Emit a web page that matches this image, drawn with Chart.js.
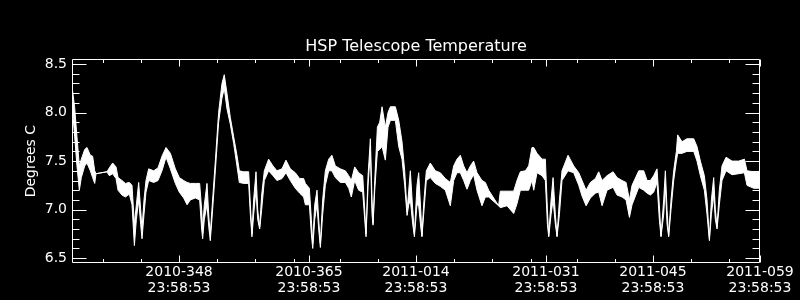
<!DOCTYPE html>
<html>
<head>
<meta charset="utf-8">
<script src="https://cdn.jsdelivr.net/npm/chart.js@4"></script>
<style>
html, body { margin: 0; padding: 0; background: #000; }
#wrap { width: 800px; height: 300px; }
</style>
</head>
<body>
<div id="wrap"><canvas id="tempChart" width="800" height="300"></canvas></div>
<script>

// days since 2010-334 23:58:53
let days = [
0, 0.35, 0.65, 0.96, 1.22, 1.66, 1.96, 2.4, 2.7, 2.97, 3.14, 4.58, 4.88, 5.32, 5.76, 6.02, 6.54, 6.98, 7.5, 7.85,
8.16, 8.42, 8.72, 8.98, 9.16, 9.42, 9.68, 10.03, 10.68, 11.25, 11.77, 12.3, 12.87, 13.52, 14.04, 14.61, 15.05,
15.48, 16.13, 16.7, 16.96, 17.09, 17.31, 17.66, 17.92, 18.09, 18.35, 18.75, 19.18, 19.62, 19.92, 20.27, 20.71, 21.15, 21.58, 21.89, 22.45,
23.11, 23.33, 23.54, 23.76, 24.07, 24.29, 24.55, 24.81, 25.16, 25.72, 26.29, 26.81, 27.47, 27.99, 28.56, 29.21, 29.78, 30.3,
30.53, 31.05, 31.31, 31.49, 31.75, 32.05, 32.27, 32.49, 32.79, 33.14, 33.58, 34.0, 34.45, 35.1, 35.76, 36.2, 36.54, 36.98, 37.5, 38.03,
38.29, 38.46, 38.73, 39.03, 39.25, 39.38, 39.6, 39.95, 40.25, 40.56, 40.99, 41.34, 41.65, 42.3, 42.74, 43.17, 43.52, 43.83, 44.05, 44.26,
44.57, 44.79, 45.13,
45.35, 45.65, 45.78, 46.0, 46.35, 46.87, 47.53, 48.18, 48.84, 49.49, 49.93, 50.36, 50.8, 51.24, 51.67, 52.11, 52.54, 52.98, 53.63, 54.07,
54.51, 55.81, 56.03, 56.9, 57.78, 58.21, 58.65, 59.3, 59.74, 60.17,
60.4, 60.83, 61.49, 61.92, 62.19, 62.36, 62.67, 62.93, 63.23, 63.45, 63.76, 64.1, 64.89, 65.63, 66.29, 66.72, 67.25, 67.81, 68.47, 68.9,
69.34, 69.99, 70.78, 71.3, 71.96, 72.48, 72.92, 73.26, 74.14, 74.79, 75.23,
75.66, 76.09, 76.53, 76.83, 77.05, 77.4, 77.62, 77.84, 78.05, 78.36, 78.71, 79.06, 79.23, 79.8, 80.45, 81.33, 81.76, 82.2, 82.72, 83.07,
83.38, 83.64, 83.94, 84.16, 84.38, 84.68, 85.03, 85.56, 86.34, 87.21, 87.96, 88.3, 89.18, 90.0
];

// top edge of the temperature band
let tempHigh = [
8.27, 8.05, 7.75, 7.45, 7.52, 7.62, 7.64, 7.56, 7.55, 7.40, 7.37, 7.39, 7.43, 7.48, 7.44, 7.33, 7.30, 7.27, 7.28, 7.25,
6.85, 7.05, 7.28, 7.00, 6.80, 7.10, 7.30, 7.42, 7.40, 7.43, 7.55, 7.64, 7.58, 7.42, 7.33, 7.30, 7.28,
7.27, 7.27, 7.27, 7.00, 6.80, 7.05, 7.27, 6.90, 6.75, 7.05, 7.50, 8.00, 8.30, 8.39, 8.20, 7.95, 7.75, 7.56, 7.40, 7.39,
7.39, 7.05, 6.75, 7.10, 7.39, 7.00, 6.82, 7.15, 7.40, 7.52, 7.45, 7.40, 7.42, 7.51, 7.42, 7.38, 7.32, 7.32,
7.27, 7.22, 6.90, 6.65, 7.05, 7.20, 6.90, 6.65, 7.10, 7.40, 7.52, 7.56, 7.45, 7.42, 7.40, 7.35, 7.30, 7.44, 7.38, 7.35,
7.00, 6.75, 7.35, 7.73, 7.10, 6.86, 7.30, 7.85, 7.90, 8.06, 7.85, 8.00, 8.06, 8.06, 7.92, 7.70, 7.40, 6.98, 7.20, 7.40,
7.00, 6.75, 7.25,
7.38, 6.95, 6.73, 7.05, 7.40, 7.48, 7.40, 7.38, 7.32, 7.28, 7.45, 7.52, 7.56, 7.45, 7.38, 7.45, 7.50, 7.38, 7.30, 7.28,
7.20, 7.04, 7.19, 7.19, 7.19, 7.30, 7.39, 7.40, 7.45, 7.64,
7.64, 7.58, 7.52, 7.52, 7.00, 6.73, 7.10, 7.33, 6.95, 6.73, 7.10, 7.40, 7.56, 7.45, 7.38, 7.30, 7.20, 7.28, 7.32, 7.39,
7.30, 7.35, 7.39, 7.33, 7.30, 7.28, 7.10, 7.25, 7.40, 7.40, 7.30,
7.30, 7.35, 7.42, 7.05, 6.73, 7.10, 7.40, 7.00, 6.73, 7.10, 7.40, 7.60, 7.77, 7.70, 7.73, 7.73, 7.65, 7.50, 7.35, 7.10,
6.70, 7.10, 7.33, 7.00, 6.82, 7.20, 7.45, 7.54, 7.50, 7.50, 7.52, 7.40, 7.39, 7.38
];

// bottom edge of the temperature band
let tempLow = [
8.10, 7.75, 7.45, 7.20, 7.33, 7.45, 7.48, 7.40, 7.33, 7.27, 7.37, 7.39, 7.35, 7.37, 7.32, 7.20, 7.15, 7.13, 7.16, 7.05,
6.63, 6.90, 7.10, 6.85, 6.70, 6.95, 7.18, 7.30, 7.28, 7.30, 7.40, 7.54, 7.42, 7.27, 7.18, 7.12, 7.05,
7.10, 7.12, 7.10, 6.80, 6.70, 6.90, 7.05, 6.80, 6.68, 6.95, 7.40, 7.90, 8.15, 8.25, 8.04, 7.88, 7.68, 7.45, 7.28, 7.27,
7.27, 6.95, 6.72, 6.95, 7.20, 6.90, 6.80, 7.00, 7.30, 7.40, 7.35, 7.30, 7.32, 7.38, 7.30, 7.22, 7.17, 7.13,
7.05, 7.05, 6.75, 6.60, 6.90, 7.05, 6.80, 6.61, 6.95, 7.25, 7.40, 7.40, 7.33, 7.28, 7.28, 7.22, 7.13, 7.30, 7.20, 7.18,
6.90, 6.72, 7.25, 7.60, 6.95, 6.84, 7.20, 7.60, 7.62, 7.65, 7.51, 7.85, 7.92, 7.92, 7.65, 7.52, 7.25, 6.94, 7.05, 7.10,
6.85, 6.72, 7.05,
7.04, 6.80, 6.72, 6.95, 7.30, 7.33, 7.27, 7.24, 7.20, 7.04, 7.30, 7.38, 7.38, 7.30, 7.21, 7.30, 7.36, 7.20, 7.04, 7.13,
7.13, 7.04, 7.02, 7.04, 6.96, 7.06, 7.20, 7.20, 7.20, 7.30,
7.20, 7.38, 7.35, 7.30, 6.85, 6.72, 6.95, 7.10, 6.85, 6.72, 6.95, 7.30, 7.40, 7.38, 7.25, 7.14, 7.04, 7.12, 7.17, 7.18,
7.04, 7.20, 7.23, 7.15, 7.13, 7.10, 6.92, 7.05, 7.23, 7.20, 7.17,
7.15, 7.18, 7.28, 6.90, 6.72, 6.95, 7.25, 6.85, 6.72, 7.00, 7.30, 7.50, 7.58, 7.58, 7.60, 7.60, 7.50, 7.35, 7.20, 6.95,
6.68, 6.95, 7.15, 6.90, 6.80, 7.05, 7.30, 7.40, 7.36, 7.37, 7.38, 7.25, 7.22, 7.22
];

// axis ticks
let xMajor = [14, 31, 45, 62, 76, 90];
let xMinor = [4, 9, 19, 24, 29, 35, 40, 50, 55, 60, 66, 71, 81, 86];
let xDayLabels = ["2010-348", "2010-365", "2011-014", "2011-031", "2011-045", "2011-059"];
let xTimeLabel = "23:58:53";
let yMajor = [6.5, 7.0, 7.5, 8.0, 8.5];
let yMinor = [6.6, 6.7, 6.8, 6.9, 7.1, 7.2, 7.3, 7.4, 7.6, 7.7, 7.8, 7.9, 8.1, 8.2, 8.3, 8.4];

let font = "'DejaVu Sans', sans-serif";

// frame + inward ticks like the original plot
let frameTicks = {
id: "frameTicks",
afterDatasetsDraw(chart){
let a = chart.chartArea;
let x = chart.scales.x;
let y = chart.scales.y;
let ctx = chart.ctx;
let l = Math.round(a.left) + 0.5;
let r = Math.round(a.right) - 0.5;
let t = Math.round(a.top) + 0.5;
let b = Math.round(a.bottom) - 0.5;
ctx.save();
ctx.strokeStyle = "#fff";
ctx.lineWidth = 1;
ctx.beginPath();
ctx.rect(l, t, r - l, b - t);

function xTick(v, len){
let px = Math.round(x.getPixelForValue(v)) + 0.5;
ctx.moveTo(px, b); ctx.lineTo(px, b - len);
ctx.moveTo(px, t); ctx.lineTo(px, t + len);
}
function yTick(v, len){
let py = Math.round(y.getPixelForValue(v)) + 0.5;
ctx.moveTo(l, py); ctx.lineTo(l + len, py);
ctx.moveTo(r, py); ctx.lineTo(r - len, py);
}

xMajor.forEach(v => xTick(v, 7));
xMinor.forEach(v => xTick(v, 3.5));
yMajor.forEach(v => yTick(v, 14));
yMinor.forEach(v => yTick(v, 7));
ctx.stroke();
ctx.restore();
}
};

let highPts = days.map((d, i) => ({x: d, y: tempHigh[i]}));
let lowPts = days.map((d, i) => ({x: d, y: tempLow[i]}));

Chart.defaults.color = "#fff";
Chart.defaults.font.family = font;

let chart = new Chart(document.getElementById("tempChart"), {
type: "line",
data: {
datasets: [
{
data: highPts,
borderColor: "#fff",
borderWidth: 1,
pointRadius: 0,
tension: 0,
fill: false
},
{
data: lowPts,
borderColor: "#fff",
backgroundColor: "#fff",
borderWidth: 1,
pointRadius: 0,
tension: 0,
fill: "-1"
}
]
},
options: {
responsive: false,
animation: false,
layout: { padding: { top: 0, right: 40, left: 0, bottom: 0 } },
plugins: {
legend: { display: false },
tooltip: { enabled: false },
title: {
display: true,
fullSize: false,
text: "HSP Telescope Temperature",
color: "#fff",
font: { family: font, size: 16, weight: "normal" },
padding: { top: 37, bottom: 3 }
}
},
scales: {
x: {
type: "linear",
min: 0,
max: 90,
grid: { display: false, drawTicks: false },
border: { display: false },
afterBuildTicks(scale){
scale.ticks = xMajor.map(v => ({ value: v }));
},
afterFit(scale){
scale.height = 37;
},
ticks: {
autoSkip: false,
maxRotation: 0,
padding: 2,
color: "#fff",
font: { family: font, size: 14, lineHeight: 1.1 },
callback: function(value){
let i = xMajor.indexOf(value);
return [xDayLabels[i], xTimeLabel];
}
}
},
y: {
min: 6.45,
max: 8.55,
grid: { display: false, drawTicks: false },
border: { display: false },
afterBuildTicks(scale){
scale.ticks = yMajor.map(v => ({ value: v }));
},
afterFit(scale){
scale.width = 72;
},
ticks: {
padding: 5,
color: "#fff",
font: { family: font, size: 14 },
callback: function(value){
return value.toFixed(1);
}
},
title: {
display: true,
text: "Degrees C",
color: "#fff",
font: { family: font, size: 14 },
padding: { top: 23, bottom: 0 }
}
}
}
},
plugins: [frameTicks]
});

</script>
</body>
</html>
